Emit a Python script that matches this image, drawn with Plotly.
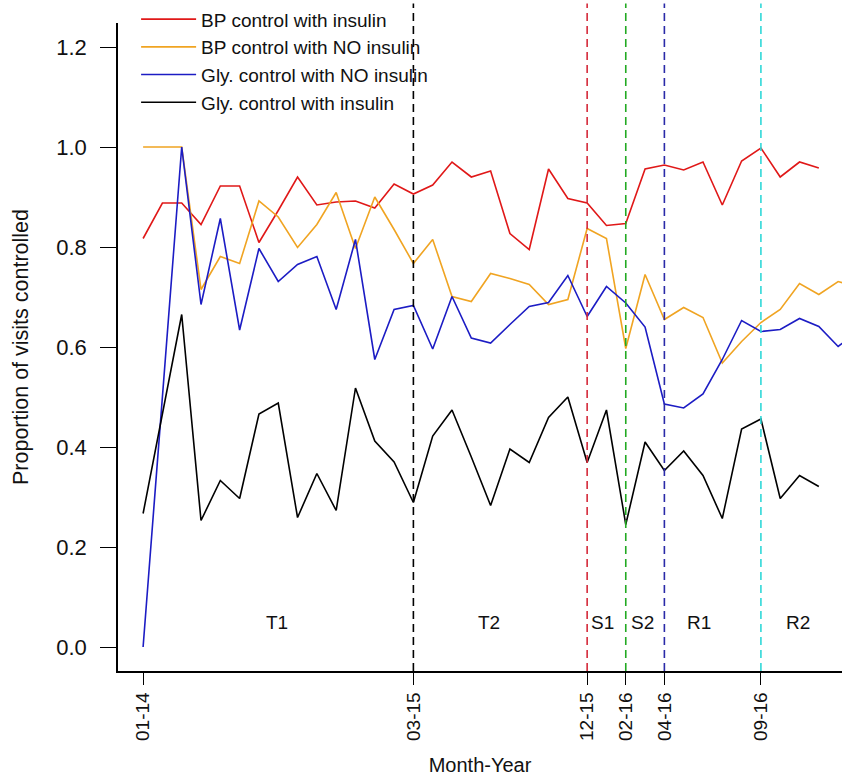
import plotly.graph_objects as go

# ---- data ----
months = ["01-14","02-14","03-14","04-14","05-14","06-14","07-14","08-14","09-14","10-14","11-14","12-14",
          "01-15","02-15","03-15","04-15","05-15","06-15","07-15","08-15","09-15","10-15","11-15","12-15",
          "01-16","02-16","03-16","04-16","05-16","06-16","07-16","08-16","09-16","10-16","11-16","12-16",
          "01-17","02-17"]
tick_labels = ["01-14", "03-15", "12-15", "02-16", "04-16", "09-16"]

bp_insulin = [0.817, 0.888, 0.888, 0.845, 0.922, 0.922, 0.809, 0.873, 0.940, 0.884, 0.890, 0.892,
              0.878, 0.926, 0.906, 0.924, 0.970, 0.940, 0.952, 0.827, 0.795, 0.956, 0.897, 0.888,
              0.843, 0.847, 0.956, 0.964, 0.954, 0.970, 0.884, 0.972, 0.998, 0.940, 0.970, 0.958]
bp_no_insulin = [1.0, 1.0, 1.0, 0.715, 0.781, 0.767, 0.892, 0.860, 0.799, 0.845, 0.909, 0.797,
                 0.900, 0.835, 0.767, 0.815, 0.701, 0.691, 0.747, 0.737, 0.725, 0.685, 0.695, 0.837,
                 0.817, 0.597, 0.745, 0.655, 0.679, 0.659, 0.568, 0.611, 0.649, 0.675, 0.727, 0.705,
                 0.731, 0.720]
gly_no_insulin = [0.0, 0.50, 1.0, 0.685, 0.857, 0.634, 0.797, 0.731, 0.765, 0.781, 0.675, 0.815,
                  0.575, 0.675, 0.683, 0.596, 0.701, 0.618, 0.608, 0.645, 0.681, 0.689, 0.743, 0.661,
                  0.721, 0.688, 0.640, 0.486, 0.478, 0.506, 0.575, 0.653, 0.631, 0.635, 0.657, 0.641,
                  0.601, 0.630]
gly_insulin = [0.267, 0.470, 0.665, 0.253, 0.333, 0.297, 0.466, 0.488, 0.259, 0.347, 0.273, 0.518,
               0.412, 0.370, 0.289, 0.422, 0.474, 0.380, 0.283, 0.396, 0.369, 0.459, 0.500, 0.369,
               0.474, 0.245, 0.410, 0.353, 0.392, 0.343, 0.257, 0.436, 0.456, 0.297, 0.343, 0.321]

series_names = ["BP control with insulin", "BP control with NO insulin",
                "Gly. control with NO insulin", "Gly. control with insulin"]
series_values = [bp_insulin, bp_no_insulin, gly_no_insulin, gly_insulin]
series_colors = ["#e01818", "#f0a422", "#1c1cc4", "#000000"]

event_months = ["03-15", "12-15", "02-16", "04-16", "09-16"]
event_colors = ["#000000", "#d42a3a", "#22aa22", "#2a2aa8", "#30d8d8"]

region_labels = ["T1", "T2", "S1", "S2", "R1", "R2"]
region_x = [6.95, 17.9, 23.8, 25.85, 28.8, 33.9]
region_y = 0.05

FONT = "Liberation Sans, Arial, sans-serif"

fig = go.Figure()
for name, vals, col in zip(series_names, series_values, series_colors):
    fig.add_trace(go.Scatter(x=list(range(len(vals))), y=vals, mode="lines", name=name,
                             line=dict(color=col, width=1.6)))

for m, c in zip(event_months, event_colors):
    xi = months.index(m)
    fig.add_shape(type="line", xref="x", yref="paper", x0=xi, x1=xi, y0=0, y1=1.03,
                  line=dict(color=c, width=1.6, dash="8px,5px"))

for lab, xx in zip(region_labels, region_x):
    fig.add_annotation(x=xx, y=region_y, xref="x", yref="y", text=lab, showarrow=False,
                       font=dict(family=FONT, size=19, color="#111"))

fig.update_layout(
    width=842, height=776,
    margin=dict(l=118, r=0, t=21, b=105),
    paper_bgcolor="white", plot_bgcolor="white",
    font=dict(family=FONT, size=19, color="#111"),
    showlegend=True,
    legend=dict(x=0.025, y=1.035, xanchor="left", yanchor="top", bgcolor="rgba(0,0,0,0)",
                font=dict(family=FONT, size=19, color="#111"), itemwidth=55, tracegroupgap=0),
    xaxis=dict(range=[-1.3, 36.2], tickmode="array",
               tickvals=[months.index(t) for t in tick_labels], ticktext=tick_labels,
               tickangle=-90, ticks="outside", ticklen=12, tickwidth=1.4, tickcolor="black",
               showline=True, linecolor="black", linewidth=1.6, showgrid=False, zeroline=False,
               tickfont=dict(family=FONT, size=19, color="#111"),
               title=dict(text="Month-Year", font=dict(family=FONT, size=20, color="#111"), standoff=18)),
    yaxis=dict(range=[-0.048, 1.248], tickmode="array", tickvals=[0, 0.2, 0.4, 0.6, 0.8, 1.0, 1.2],
               ticktext=["0.0", "0.2", "0.4", "0.6", "0.8", "1.0", "1.2"],
               ticks="outside", ticklen=16, tickwidth=1.4, tickcolor="black", ticklabelstandoff=9,
               showline=True, linecolor="black", linewidth=1.6, showgrid=False, zeroline=False,
               tickfont=dict(family=FONT, size=22, color="#111"),
               title=dict(text="Proportion of visits controlled",
                          font=dict(family=FONT, size=21.5, color="#111"), standoff=22)),
)

fig.write_html("out.html")
